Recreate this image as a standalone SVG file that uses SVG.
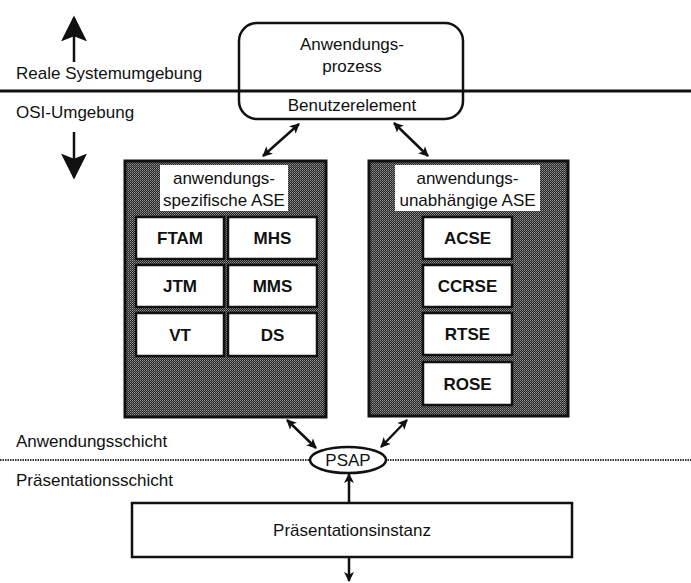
<svg xmlns="http://www.w3.org/2000/svg" width="691" height="583" viewBox="0 0 691 583">
<defs>
<style>
text{font-family:"Liberation Sans",Arial,sans-serif;font-size:17px;fill:#111}
.c{text-anchor:middle}
.b{font-weight:bold}
.box{fill:#fff;stroke:#111;stroke-width:2.5}
.cell{fill:#fff;stroke:#111;stroke-width:2.5}
.dark{fill:url(#stip);stroke:#111;stroke-width:3}
.con{stroke:#111;stroke-width:2.5;fill:none}
</style>
<pattern id="stip" width="2" height="2" patternUnits="userSpaceOnUse">
<rect width="2" height="2" fill="#262626"/>
<rect width="1" height="1" fill="#939393"/>
<rect x="1" y="1" width="1" height="1" fill="#6e6e6e"/>
</pattern>
<marker id="ah" viewBox="0 0 10 10" refX="9" refY="5" markerWidth="11" markerHeight="10" markerUnits="userSpaceOnUse" orient="auto-start-reverse">
<path d="M0,0 L10,5 L0,10 L2.5,5 z" fill="#111"/>
</marker>
<marker id="big" viewBox="0 0 10 10" refX="9" refY="5" markerWidth="26" markerHeight="26" markerUnits="userSpaceOnUse" orient="auto">
<path d="M0,0 L10,5 L0,10 L2,5 z" fill="#111"/>
</marker>
</defs>
<rect width="691" height="583" fill="#fff"/>

<g id="layer-lines">
<line x1="0" y1="91" x2="691" y2="91" stroke="#111" stroke-width="3"/>
<line x1="0" y1="460" x2="691" y2="460" stroke="#333" stroke-width="2" stroke-dasharray="1.5 1"/>
</g>

<g id="labels">
<text x="16" y="79">Reale Systemumgebung</text>
<text x="16" y="118">OSI-Umgebung</text>
<text x="16" y="447">Anwendungsschicht</text>
<text x="16" y="486">Präsentationsschicht</text>
</g>

<g id="anwendungsprozess">
<rect class="box" x="239" y="23" width="224" height="96" rx="18"/>
<line x1="239" y1="91" x2="463" y2="91" stroke="#111" stroke-width="3"/>
<text class="c" x="352" y="50">Anwendungs-</text>
<text class="c" x="352" y="72">prozess</text>
<text class="c" x="352" y="111">Benutzerelement</text>
</g>

<g id="spezifische-ase">
<rect class="dark" x="125" y="161" width="201" height="256"/>
<rect x="160" y="165" width="128" height="46" fill="#fff"/>
<text class="c" x="224" y="184">anwendungs-</text>
<text class="c" x="224" y="206">spezifische ASE</text>
<g id="ftam"><rect class="cell" x="136" y="217" width="88" height="42"/><text class="c b" x="180" y="244">FTAM</text></g>
<g id="mhs"><rect class="cell" x="228" y="217" width="89" height="42"/><text class="c b" x="272.5" y="244">MHS</text></g>
<g id="jtm"><rect class="cell" x="136" y="265" width="88" height="42"/><text class="c b" x="180" y="292">JTM</text></g>
<g id="mms"><rect class="cell" x="228" y="265" width="89" height="42"/><text class="c b" x="272.5" y="292">MMS</text></g>
<g id="vt"><rect class="cell" x="136" y="313" width="88" height="43"/><text class="c b" x="180" y="341">VT</text></g>
<g id="ds"><rect class="cell" x="228" y="313" width="89" height="43"/><text class="c b" x="272.5" y="341">DS</text></g>
</g>

<g id="unabhaengige-ase">
<rect class="dark" x="369" y="161" width="199" height="255"/>
<rect x="395" y="165" width="145" height="46" fill="#fff"/>
<text class="c" x="467.5" y="184">anwendungs-</text>
<text class="c" x="467.5" y="206">unabhängige ASE</text>
<g id="acse"><rect class="cell" x="423" y="217" width="89" height="42"/><text class="c b" x="467.5" y="244">ACSE</text></g>
<g id="ccrse"><rect class="cell" x="423" y="265" width="89" height="42"/><text class="c b" x="467.5" y="292">CCRSE</text></g>
<g id="rtse"><rect class="cell" x="423" y="313" width="89" height="42"/><text class="c b" x="467.5" y="340">RTSE</text></g>
<g id="rose"><rect class="cell" x="423" y="362" width="89" height="43"/><text class="c b" x="467.5" y="390">ROSE</text></g>
</g>

<g id="psap">
<ellipse cx="348" cy="460" rx="38" ry="13" fill="#fff" stroke="#111" stroke-width="2.5"/>
<text class="c" x="348" y="466">PSAP</text>
</g>

<g id="praesentationsinstanz">
<rect class="box" x="132" y="503" width="440" height="54"/>
<text class="c" x="352" y="536">Präsentationsinstanz</text>
</g>

<g id="connectors">
<line class="con" x1="74" y1="62" x2="74" y2="18" stroke-width="4" marker-end="url(#big)"/>
<line class="con" x1="74" y1="132" x2="74" y2="177" stroke-width="3" marker-end="url(#big)"/>
<line class="con" x1="299" y1="124" x2="263" y2="156" marker-start="url(#ah)" marker-end="url(#ah)"/>
<line class="con" x1="394" y1="123" x2="428" y2="156" marker-start="url(#ah)" marker-end="url(#ah)"/>
<line class="con" x1="287" y1="420" x2="316" y2="448" marker-start="url(#ah)" marker-end="url(#ah)"/>
<line class="con" x1="407" y1="420" x2="381" y2="447" marker-start="url(#ah)" marker-end="url(#ah)"/>
<line class="con" x1="349" y1="503" x2="349" y2="474" marker-end="url(#ah)"/>
<line class="con" x1="349" y1="557" x2="349" y2="581" marker-end="url(#ah)"/>
</g>
</svg>
